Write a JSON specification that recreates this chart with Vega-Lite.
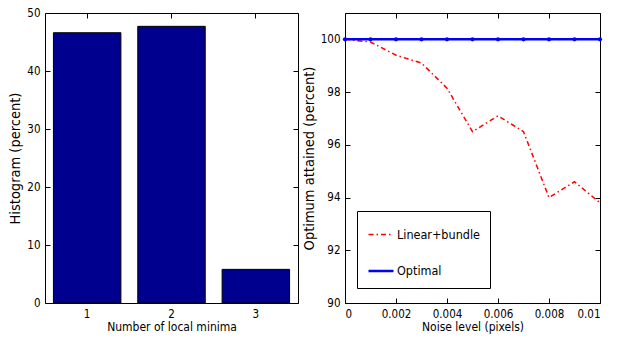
{
  "$schema": "https://vega.github.io/schema/vega-lite/v6.json",
  "background": "white",
  "padding": {"left": 7, "top": 6, "right": 10, "bottom": 5},
  "spacing": 1,
  "config": {
    "font": "DejaVu Sans Condensed",
    "view": {"stroke": "black", "strokeWidth": 1},
    "axis": {
      "grid": false, "domain": false, "tickColor": "black", "tickSize": -5,
      "labelPadding": 10, "labelFontSize": 11.5, "titleFontSize": 12, "titleFontWeight": "normal",
      "labelColor": "black", "titleColor": "black",
      "labelFont": "DejaVu Sans Condensed", "titleFont": "DejaVu Sans Condensed"
    },
    "axisY": {"titleFontSize": 14.5}
  },
  "hconcat": [
    {
      "width": 253, "height": 290,
      "data": {"values": [{"k": 1, "pct": 46.6}, {"k": 2, "pct": 47.7}, {"k": 3, "pct": 5.8}]},
      "layer": [
        {
          "mark": {"type": "bar", "color": "#00008F", "stroke": "black", "strokeWidth": 1},
          "encoding": {
            "x": {"field": "k", "type": "ordinal", "scale": {"paddingInner": 0.2, "paddingOuter": 0.1},
                  "axis": {"labelAngle": 0, "title": "Number of local minima", "titlePadding": 2}},
            "y": {"field": "pct", "type": "quantitative", "scale": {"domain": [0, 50]},
                  "axis": {"values": [0, 10, 20, 30, 40, 50], "title": "Histogram (percent)", "titlePadding": 4}}
          }
        },
        {
          "mark": {"type": "bar", "opacity": 0},
          "encoding": {
            "x": {"field": "k", "type": "ordinal", "scale": {"paddingInner": 0.2, "paddingOuter": 0.1},
                  "axis": {"orient": "top", "labels": false, "title": null}},
            "y": {"field": "pct", "type": "quantitative", "scale": {"domain": [0, 50]},
                  "axis": {"orient": "right", "values": [0, 10, 20, 30, 40, 50], "labels": false, "title": null}}
          }
        }
      ],
      "resolve": {"axis": {"x": "independent", "y": "independent"}}
    },
    {
      "width": 255, "height": 290,
      "data": {"values": [
        {"noise": 0, "pct": 100, "series": "Linear+bundle"},
        {"noise": 0.001, "pct": 99.9, "series": "Linear+bundle"},
        {"noise": 0.002, "pct": 99.4, "series": "Linear+bundle"},
        {"noise": 0.003, "pct": 99.1, "series": "Linear+bundle"},
        {"noise": 0.004, "pct": 98.15, "series": "Linear+bundle"},
        {"noise": 0.005, "pct": 96.5, "series": "Linear+bundle"},
        {"noise": 0.006, "pct": 97.1, "series": "Linear+bundle"},
        {"noise": 0.007, "pct": 96.5, "series": "Linear+bundle"},
        {"noise": 0.008, "pct": 94.0, "series": "Linear+bundle"},
        {"noise": 0.009, "pct": 94.6, "series": "Linear+bundle"},
        {"noise": 0.01, "pct": 93.8, "series": "Linear+bundle"},
        {"noise": 0, "pct": 100, "series": "Optimal"},
        {"noise": 0.001, "pct": 100, "series": "Optimal"},
        {"noise": 0.002, "pct": 100, "series": "Optimal"},
        {"noise": 0.003, "pct": 100, "series": "Optimal"},
        {"noise": 0.004, "pct": 100, "series": "Optimal"},
        {"noise": 0.005, "pct": 100, "series": "Optimal"},
        {"noise": 0.006, "pct": 100, "series": "Optimal"},
        {"noise": 0.007, "pct": 100, "series": "Optimal"},
        {"noise": 0.008, "pct": 100, "series": "Optimal"},
        {"noise": 0.009, "pct": 100, "series": "Optimal"},
        {"noise": 0.01, "pct": 100, "series": "Optimal"}
      ]},
      "layer": [
        {
          "layer": [
            {
              "mark": {"type": "line", "clip": true},
              "encoding": {
                "x": {"field": "noise", "type": "quantitative", "scale": {"domain": [0, 0.01]},
                      "axis": {"values": [0, 0.002, 0.004, 0.006, 0.008, 0.01], "format": "~g", "title": "Noise level (pixels)", "titlePadding": 2}},
                "y": {"field": "pct", "type": "quantitative", "scale": {"domain": [90, 101]},
                      "axis": {"values": [90, 92, 94, 96, 98, 100], "title": "Optimum attained (percent)", "titlePadding": 4}},
                "color": {"field": "series", "type": "nominal",
                          "scale": {"domain": ["Linear+bundle", "Optimal"], "range": ["#FF0000", "#0000FF"]},
                          "legend": {"orient": "none", "legendX": 312, "legendY": 198, "title": null,
                                     "strokeColor": "black", "fillColor": "white", "padding": 10,
                                     "symbolType": "stroke", "symbolSize": 625, "symbolStrokeWidth": 2,
                                     "labelFontSize": 12.5, "labelFont": "DejaVu Sans Condensed", "labelColor": "black",
                                     "rowPadding": 16, "labelOffset": 2,
                                     "labelExpr": "datum.label + '\u00a0\u00a0\u00a0\u00a0\u00a0\u00a0\u00a0\u00a0\u00a0\u00a0\u00a0\u00a0\u00a0\u00a0\u00a0'"}},
                "strokeDash": {"field": "series", "type": "nominal",
                               "scale": {"domain": ["Linear+bundle", "Optimal"], "range": [[5, 3, 1.5, 3], [1, 0]]}},
                "strokeWidth": {"field": "series", "type": "nominal",
                                "scale": {"domain": ["Linear+bundle", "Optimal"], "range": [1.5, 2.5]}, "legend": null}
              }
            },
            {
              "transform": [{"filter": "datum.series == 'Optimal'"}],
              "mark": {"type": "point", "filled": true, "size": 18, "color": "#0000FF", "opacity": 1},
              "encoding": {
                "x": {"field": "noise", "type": "quantitative"},
                "y": {"field": "pct", "type": "quantitative"}
              }
            }
          ]
        },
        {
          "mark": {"type": "point", "opacity": 0},
          "encoding": {
            "x": {"field": "noise", "type": "quantitative", "scale": {"domain": [0, 0.01]},
                  "axis": {"orient": "top", "values": [0, 0.002, 0.004, 0.006, 0.008, 0.01], "labels": false, "title": null}},
            "y": {"field": "pct", "type": "quantitative", "scale": {"domain": [90, 101]},
                  "axis": {"orient": "right", "values": [90, 92, 94, 96, 98, 100], "labels": false, "title": null}}
          }
        }
      ],
      "resolve": {"axis": {"x": "independent", "y": "independent"}}
    }
  ]
}
